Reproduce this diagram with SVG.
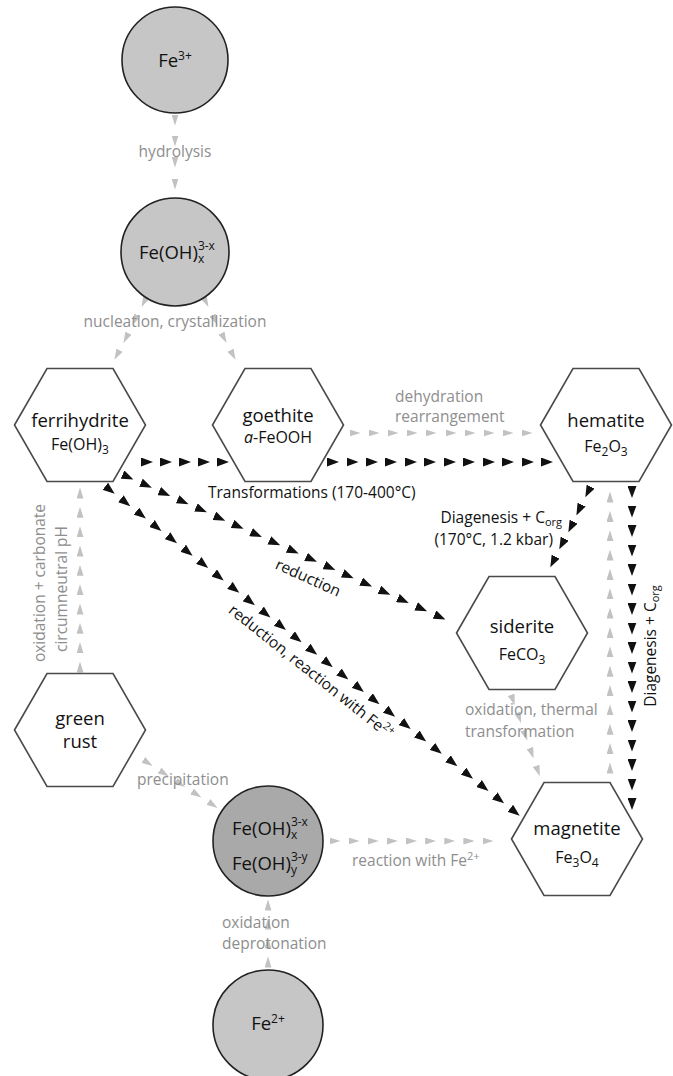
<svg xmlns="http://www.w3.org/2000/svg" width="673" height="1076" viewBox="0 0 673 1076">
<style>
text{font-family:"Open Sans","Noto Sans","Liberation Sans",sans-serif;fill:#111}
.nm{font-size:18.5px;text-anchor:middle}
.fm{font-size:16px;text-anchor:middle}
.ct{font-size:18.5px}
.ss{font-size:12px}
.lb{font-size:15.5px;fill:#111}
.gl{font-size:15.5px;fill:#8e8e8e}
.hx{fill:#fff;stroke:#4a4a4a;stroke-width:1.6}
.cl{fill:#c6c6c6;stroke:#222;stroke-width:1.6}
.cd{fill:#a9a9a9;stroke:#222;stroke-width:1.6}
.cb{fill:none;stroke:none;marker-start:url(#ab);marker-mid:url(#ab);marker-end:url(#ab)}
.cg{fill:none;stroke:none;marker-start:url(#ag);marker-mid:url(#ag);marker-end:url(#ag)}
</style>
<defs>
<marker id="ab" viewBox="0 0 12 9" markerWidth="12" markerHeight="9" refX="6" refY="4.5" orient="auto" markerUnits="userSpaceOnUse"><path d="M0,0 L12,4.5 L0,9 Z" fill="#111"/></marker>
<marker id="ag" viewBox="0 0 11 7" markerWidth="11" markerHeight="7" refX="5.5" refY="3.5" orient="auto" markerUnits="userSpaceOnUse"><path d="M0,0 L11,3.5 L0,7 Z" fill="#c2c2c2"/></marker>
<path id="hex" d="M-65.5,0 L-33,-56.5 L33,-56.5 L65.5,0 L33,56.5 L-33,56.5 Z"/>
</defs>

<g id="connectors">
<polyline class="cg" points="175,120 175,141 175,162 175,184"/>
<polyline class="cg" points="144,302 135,320 126,338 117,355"/>
<polyline class="cg" points="206,302 215,320 224,338 233,355"/>
<polyline class="cb" points="147,462 166,462 185,462 204,462 223,462"/>
<polyline class="cb" points="333,462 352.5,462 372,462 391,462 411,462 430,462 450,462 469,462 489,462 508,462 528,462 547,462"/>
<polyline class="cg" points="355,433 374,433 393,433 412,433 431,433 451,433 470,433 489,433 508,433 527,433"/>
<polyline class="cb" points="588,492 579,510 571,527 562,544 553,562"/>
<polyline class="cb" points="632,492 632,511.5 632,531 632,550.5 632,570 632,589.5 632,609 632,628.5 632,648 632,667.5 632,687 632,706.5 632,726 632,745.5 632,765 632,784.5 632,804"/>
<polyline class="cg" points="610,768 610,748.6 610,729.3 610,709.9 610,690.6 610,671.2 610,651.9 610,632.5 610,613.1 610,593.8 610,574.4 610,555.1 610,535.7 610,516.4 610,497"/>
<polyline class="cb" points="128,477 146.4,485.2 164.7,493.5 183.1,501.7 201.4,509.9 219.8,518.2 238.1,526.4 256.5,534.6 274.8,542.9 293.2,551.1 311.5,559.4 329.9,567.6 348.2,575.8 366.6,584.1 384.9,592.3 403.3,600.5 421.6,608.8 440,617"/>
<polyline class="cb" points="110,490 125.6,502.4 141.2,514.8 156.7,527.2 172.3,539.5 187.9,551.9 203.5,564.3 219,576.7 234.6,589.1 250.2,601.5 265.8,613.8 281.3,626.2 296.9,638.6 312.5,651 328.1,663.4 343.7,675.8 359.2,688.2 374.8,700.5 390.4,712.9 406,725.3 421.5,737.7 437.1,750.1 452.7,762.5 468.3,774.9 483.8,787.2 499.4,799.6 515,812"/>
<polyline class="cg" points="80,667 80,647.7 80,628.3 80,609 80,589.7 80,570.3 80,551 80,531.7 80,512.3 80,493"/>
<polyline class="cg" points="148,763 164.25,773.5 180.5,784 196.75,794.5 213,805"/>
<polyline class="cg" points="268,962 268,943 268,924 268,905"/>
<polyline class="cg" points="335,841 354.1,841 373.3,841 392.4,841 411.5,841 430.6,841 449.8,841 468.9,841 488,841"/>
<polyline class="cg" points="513,700 519.25,717.75 525.5,735.5 531.75,753.25 538,771"/>

<text class="gl" x="175" y="157" text-anchor="middle">hydrolysis</text>
<text class="gl" x="175" y="327" text-anchor="middle">nucleation, crystallization</text>
<text class="gl" x="395" y="402">dehydration</text>
<text class="gl" x="395" y="422">rearrangement</text>
<text class="lb" x="208" y="498">Transformations (170-400°C)</text>
<text class="lb" x="562" y="523" text-anchor="end">Diagenesis + C<tspan font-size="11" dy="3">org</tspan></text>
<text class="lb" x="553" y="545" text-anchor="end">(170°C, 1.2 kbar)</text>
<text class="lb" transform="translate(308,578) rotate(24.2)" x="0" y="5" text-anchor="middle">reduction</text>
<text class="lb" transform="translate(311,672) rotate(38.5)" x="0" y="5" text-anchor="middle">reduction, reaction with Fe<tspan font-size="11" dy="-6">2+</tspan></text>
<text class="lb" transform="translate(656,646) rotate(-90)" x="0" y="0" text-anchor="middle">Diagenesis + C<tspan font-size="11" dy="3">org</tspan></text>
<text class="gl" transform="translate(45,583) rotate(-90)" x="0" y="0" text-anchor="middle">oxidation + carbonate</text>
<text class="gl" transform="translate(67,589) rotate(-90)" x="0" y="0" text-anchor="middle">circumneutral pH</text>
<text class="gl" x="137" y="785">precipitation</text>
<text class="gl" x="222" y="928">oxidation</text>
<text class="gl" x="222" y="949">deprotonation</text>
<text class="gl" x="352" y="866">reaction with Fe<tspan font-size="11" dy="-6">2+</tspan></text>
<text class="gl" x="465" y="715">oxidation, thermal</text>
<text class="gl" x="465" y="737">transformation</text>
</g>

<g id="fe3">
<circle class="cl" cx="175" cy="60" r="53"/>
<text class="ct" x="175" y="67" text-anchor="middle">Fe<tspan font-size="12" dy="-7">3+</tspan></text>
</g>
<g id="feohx">
<circle class="cl" cx="175" cy="252" r="54"/>
<text class="ct" x="139" y="259">Fe(OH)<tspan class="ss" dy="-9">3-x</tspan><tspan class="ss" x="198" dy="13">x</tspan></text>
</g>
<g id="ferrihydrite">
<use href="#hex" x="80" y="425" class="hx"/>
<text class="nm" x="80" y="427">ferrihydrite</text>
<text class="fm" x="80" y="450">Fe(OH)<tspan font-size="12" dy="4">3</tspan></text>
</g>
<g id="goethite">
<use href="#hex" x="278" y="425" class="hx"/>
<text class="nm" x="278" y="422">goethite</text>
<text class="fm" x="278" y="443"><tspan font-style="italic">a</tspan>-FeOOH</text>
</g>
<g id="hematite">
<use href="#hex" x="606" y="425" class="hx"/>
<text class="nm" x="606" y="427">hematite</text>
<text class="fm" x="606" y="452">Fe<tspan font-size="12" dy="4">2</tspan><tspan dy="-4">O</tspan><tspan font-size="12" dy="4">3</tspan></text>
</g>
<g id="siderite">
<use href="#hex" x="522" y="633" class="hx"/>
<text class="nm" x="522" y="633">siderite</text>
<text class="fm" x="522" y="660">FeCO<tspan font-size="12" dy="4">3</tspan></text>
</g>
<g id="greenrust">
<use href="#hex" x="80" y="730" class="hx"/>
<text class="nm" x="80" y="725">green</text>
<text class="nm" x="80" y="748">rust</text>
</g>
<g id="magnetite">
<use href="#hex" x="577" y="839" class="hx"/>
<text class="nm" x="577" y="835">magnetite</text>
<text class="fm" x="577" y="863">Fe<tspan font-size="12" dy="4">3</tspan><tspan dy="-4">O</tspan><tspan font-size="12" dy="4">4</tspan></text>
</g>
<g id="feohxy">
<circle class="cd" cx="268" cy="841" r="55"/>
<text class="ct" x="232" y="835">Fe(OH)<tspan class="ss" dy="-9">3-x</tspan><tspan class="ss" x="291" dy="13">x</tspan></text>
<text class="ct" x="232" y="870">Fe(OH)<tspan class="ss" dy="-9">3-y</tspan><tspan class="ss" x="291" dy="13">y</tspan></text>
</g>
<g id="fe2">
<circle class="cl" cx="268" cy="1025" r="55"/>
<text class="ct" x="268" y="1030" text-anchor="middle">Fe<tspan font-size="12" dy="-7">2+</tspan></text>
</g>
</svg>
